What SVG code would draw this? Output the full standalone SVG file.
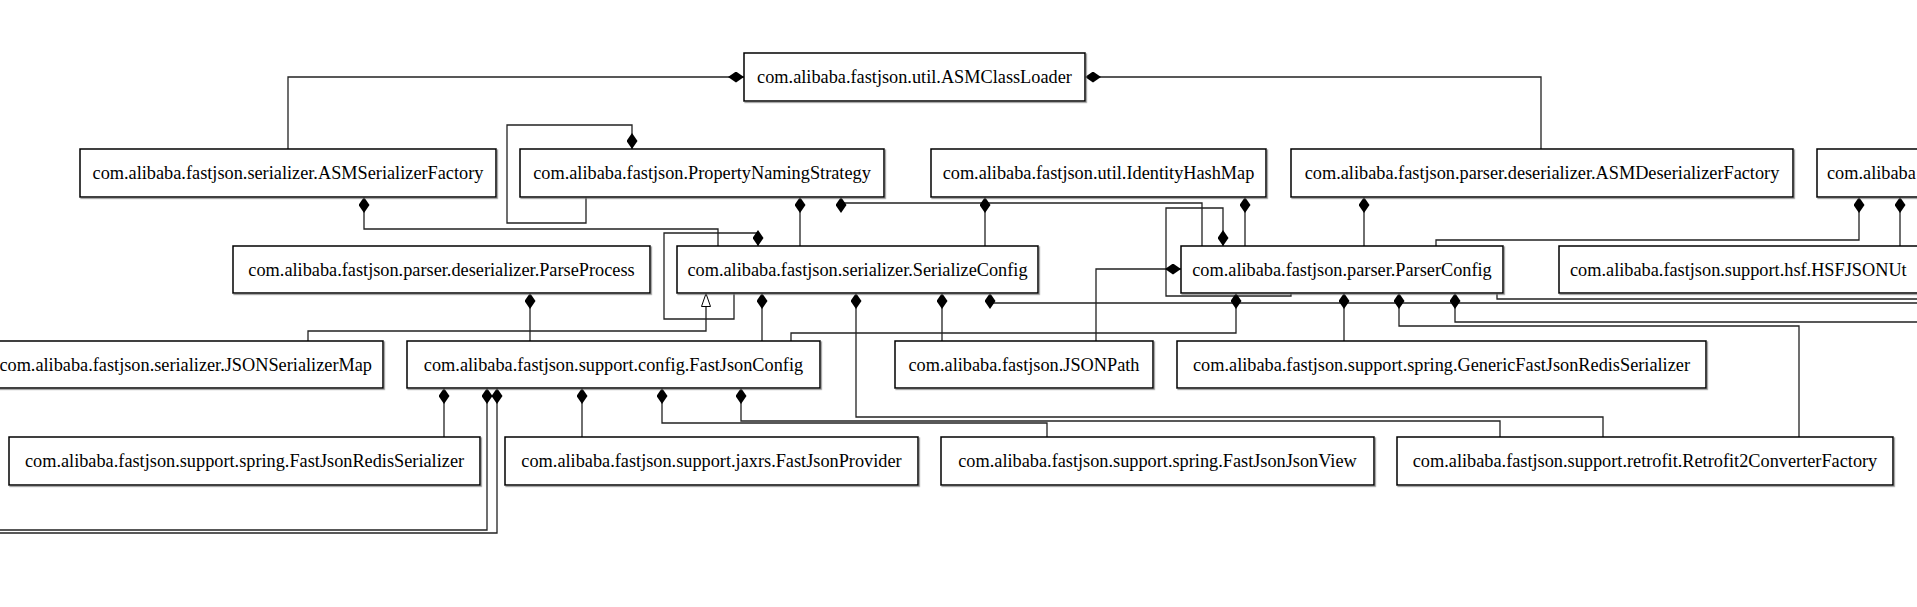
<svg xmlns="http://www.w3.org/2000/svg" width="1917" height="607" viewBox="0 0 1917 607">
<style>
.box{fill:#fff;stroke:#000;stroke-width:1.5;filter:url(#shadow)}
.lbl{font-family:"Liberation Serif","Times New Roman",serif;font-size:18.3px;fill:#000;text-anchor:middle}
.st{text-anchor:start}
.en{text-anchor:end}
.c{fill:none;stroke:#222;stroke-width:1.3}
.d{marker-start:url(#dia)}
.t{marker-start:url(#tri)}
</style>
<defs>
<filter id="shadow" x="-5%" y="-20%" width="110%" height="140%"><feDropShadow dx="1.2" dy="1.2" stdDeviation="0.4" flood-color="#777" flood-opacity="0.8"/></filter>
<marker id="dia" viewBox="0 0 16 11" refX="0" refY="5.5" markerWidth="16" markerHeight="11" orient="auto" markerUnits="userSpaceOnUse"><path d="M0,5.5 L8,0 L16,5.5 L8,11 Z" fill="#000"/></marker>
<marker id="tri" viewBox="0 0 14 10" refX="0" refY="5" markerWidth="14" markerHeight="10" orient="auto" markerUnits="userSpaceOnUse"><path d="M0.5,5 L13.5,0.5 L13.5,9.5 Z" fill="#fff" stroke="#000" stroke-width="1"/></marker>
</defs>
<rect width="1917" height="607" fill="#fff"/>
<g id="connectors">
<path class="c d" d="M744,77 H288 V149"/>
<path class="c d" d="M1085,77 H1541 V149"/>
<path class="c d" d="M632,149 V125 H507 V223 H586 V197"/>
<path class="c d" d="M364,197 V229 H718 V246"/>
<path class="c d" d="M800,197 V246"/>
<path class="c d" d="M841,197 V203 H1202 V246"/>
<path class="c d" d="M985,197 V246"/>
<path class="c d" d="M1245,197 V246"/>
<path class="c d" d="M1223,246 V208 H1166 V296 H1291 V293"/>
<path class="c d" d="M1364,197 V246"/>
<path class="c d" d="M1859,197 V240 H1436 V246"/>
<path class="c d" d="M1900,197 V246"/>
<path class="c d" d="M758,246 V233 H664 V319 H734 V293"/>
<path class="c t" d="M706,293 V331 H308 V341"/>
<path class="c d" d="M762,293 V341"/>
<path class="c d" d="M856,293 V417 H1603 V437"/>
<path class="c d" d="M942,293 V341"/>
<path class="c d" d="M990,293 V303 H1930"/>
<path class="c" d="M1497,293 V299 H1930"/>
<path class="c d" d="M1181,269 H1096 V341"/>
<path class="c d" d="M530,293 V341"/>
<path class="c d" d="M1236,293 V333 H791 V341"/>
<path class="c d" d="M1344,293 V341"/>
<path class="c d" d="M1399,293 V326 H1799 V437"/>
<path class="c d" d="M1455,293 V322 H1930"/>
<path class="c d" d="M444,388 V437"/>
<path class="c d" d="M487,388 V530 H-10"/>
<path class="c d" d="M497,388 V533 H-10"/>
<path class="c d" d="M582,388 V437"/>
<path class="c d" d="M662,388 V423 H1047 V437"/>
<path class="c d" d="M741,388 V421 H1500 V437"/>
</g>
<g id="ASMClassLoader"><rect class="box" x="744" y="53" width="341" height="48"/><text class="lbl" x="914.5" y="83">com.alibaba.fastjson.util.ASMClassLoader</text></g>
<g id="ASMSerializerFactory"><rect class="box" x="80" y="149" width="416" height="48"/><text class="lbl" x="288" y="179">com.alibaba.fastjson.serializer.ASMSerializerFactory</text></g>
<g id="PropertyNamingStrategy"><rect class="box" x="520" y="149" width="364" height="48"/><text class="lbl" x="702" y="179">com.alibaba.fastjson.PropertyNamingStrategy</text></g>
<g id="IdentityHashMap"><rect class="box" x="931" y="149" width="335" height="48"/><text class="lbl" x="1098.5" y="179">com.alibaba.fastjson.util.IdentityHashMap</text></g>
<g id="ASMDeserializerFactory"><rect class="box" x="1291" y="149" width="502" height="48"/><text class="lbl" x="1542" y="179">com.alibaba.fastjson.parser.deserializer.ASMDeserializerFactory</text></g>
<g id="TopRightNode"><rect class="box" x="1817" y="149" width="120" height="48"/><text class="lbl st" x="1827" y="179">com.alibaba</text></g>
<g id="ParseProcess"><rect class="box" x="233" y="246" width="417" height="47"/><text class="lbl" x="441.5" y="276">com.alibaba.fastjson.parser.deserializer.ParseProcess</text></g>
<g id="SerializeConfig"><rect class="box" x="677" y="246" width="361" height="47"/><text class="lbl" x="857.5" y="276">com.alibaba.fastjson.serializer.SerializeConfig</text></g>
<g id="ParserConfig"><rect class="box" x="1181" y="246" width="322" height="47"/><text class="lbl" x="1342" y="276">com.alibaba.fastjson.parser.ParserConfig</text></g>
<g id="HSFJSONUtils"><rect class="box" x="1559" y="246" width="380" height="47"/><text class="lbl st" x="1570" y="276">com.alibaba.fastjson.support.hsf.HSFJSONUt</text></g>
<g id="JSONSerializerMap"><rect class="box" x="-20" y="341" width="403" height="47"/><text class="lbl en" x="372" y="371">com.alibaba.fastjson.serializer.JSONSerializerMap</text></g>
<g id="FastJsonConfig"><rect class="box" x="407" y="341" width="413" height="47"/><text class="lbl" x="613.5" y="371">com.alibaba.fastjson.support.config.FastJsonConfig</text></g>
<g id="JSONPath"><rect class="box" x="895" y="341" width="258" height="47"/><text class="lbl" x="1024" y="371">com.alibaba.fastjson.JSONPath</text></g>
<g id="GenericFastJsonRedisSerializer"><rect class="box" x="1177" y="341" width="529" height="47"/><text class="lbl" x="1441.5" y="371">com.alibaba.fastjson.support.spring.GenericFastJsonRedisSerializer</text></g>
<g id="FastJsonRedisSerializer"><rect class="box" x="9" y="437" width="471" height="48"/><text class="lbl" x="244.5" y="467">com.alibaba.fastjson.support.spring.FastJsonRedisSerializer</text></g>
<g id="FastJsonProvider"><rect class="box" x="505" y="437" width="413" height="48"/><text class="lbl" x="711.5" y="467">com.alibaba.fastjson.support.jaxrs.FastJsonProvider</text></g>
<g id="FastJsonJsonView"><rect class="box" x="941" y="437" width="433" height="48"/><text class="lbl" x="1157.5" y="467">com.alibaba.fastjson.support.spring.FastJsonJsonView</text></g>
<g id="Retrofit2ConverterFactory"><rect class="box" x="1397" y="437" width="496" height="48"/><text class="lbl" x="1645" y="467">com.alibaba.fastjson.support.retrofit.Retrofit2ConverterFactory</text></g>
</svg>
